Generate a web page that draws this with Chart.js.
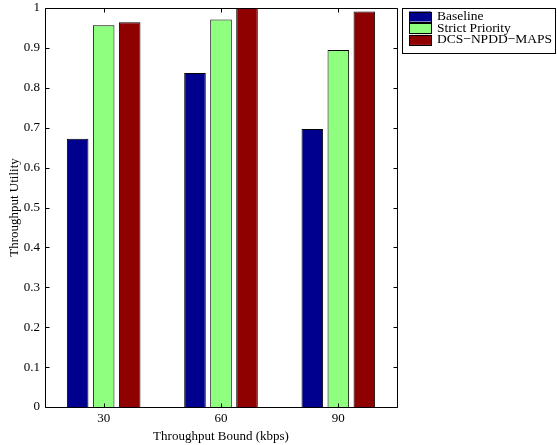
<!DOCTYPE html>
<html>
<head>
<meta charset="utf-8">
<script src="https://cdn.jsdelivr.net/npm/chart.js@4"></script>
<style>
  body { margin: 0; background: #fff; }
  canvas { display: block; }
</style>
</head>
<body>
<canvas id="utilidad" width="557" height="445"></canvas>
<script>
const categorias = ["30", "60", "90"];
const baseline = [0.672, 0.837, 0.697];
const strictPriority = [0.957, 0.971, 0.895];
const dcsNpddMaps = [0.964, 1.0, 0.991];
const nombresSeries = ["Baseline", "Strict Priority", "DCS\u2212NPDD\u2212MAPS"];
const colores = ["rgb(0,0,143)", "rgb(143,255,127)", "rgb(143,0,0)"];

const fuente = "'Liberation Serif', 'Times New Roman', serif";

// caja de ejes con marcas hacia adentro y leyenda fuera del area
const cajaYLeyenda = {
  id: "cajaYLeyenda",
  afterDraw(chart) {
    const ctx = chart.ctx;
    const a = chart.chartArea;
    const x = chart.scales.x, y = chart.scales.y;
    ctx.save();
    ctx.strokeStyle = "#000";
    ctx.lineWidth = 1;
    const L = Math.round(a.left) + 0.5, R = Math.round(a.right) + 0.5;
    const T = Math.round(a.top) + 0.5, B = Math.round(a.bottom) + 0.5;
    ctx.beginPath();
    ctx.rect(L, T, R - L, B - T);
    y.ticks.forEach(t => {
      const py = Math.round(y.getPixelForValue(t.value)) + 0.5;
      ctx.moveTo(L, py); ctx.lineTo(L + 4, py);
      ctx.moveTo(R, py); ctx.lineTo(R - 4, py);
    });
    categorias.forEach((c, i) => {
      const px = Math.round(x.getPixelForValue(i)) + 0.5;
      ctx.moveTo(px, T); ctx.lineTo(px, T + 4);
      ctx.moveTo(px, B); ctx.lineTo(px, B - 4);
    });
    ctx.stroke();

    // leyenda
    const lx = 402.5, ly = 8.5, lw = 153, lh = 45;
    ctx.fillStyle = "#fff";
    ctx.fillRect(lx, ly, lw, lh);
    ctx.strokeRect(lx, ly, lw, lh);
    ctx.font = "13.5px " + fuente;
    ctx.textBaseline = "middle";
    chart.data.datasets.forEach((ds, i) => {
      const cy = 16.5 + i * 11.7;
      ctx.fillStyle = ds.backgroundColor;
      ctx.fillRect(409, cy - 5, 22, 10);
      ctx.strokeRect(409.5, Math.round(cy - 5) + 0.5, 22, 10);
      ctx.fillStyle = "#000";
      ctx.fillText(ds.label, 437, cy);
    });
    ctx.restore();
  }
};

new Chart("utilidad", {
  type: "bar",
  data: {
    labels: categorias,
    datasets: [baseline, strictPriority, dcsNpddMaps].map((serie, i) => ({
      label: nombresSeries[i],
      data: serie,
      backgroundColor: colores[i],
      borderColor: "#000",
      borderWidth: 1,
      categoryPercentage: 0.665,
      barPercentage: 0.83
    }))
  },
  options: {
    responsive: false,
    animation: false,
    layout: { padding: { top: 0, right: 160, left: 0, bottom: 0 } },
    plugins: { legend: { display: false }, tooltip: { enabled: false } },
    scales: {
      x: {
        grid: { display: false, drawTicks: false },
        border: { display: false },
        ticks: { color: "#000", font: { family: fuente, size: 13 }, padding: 4 },
        title: {
          display: true, text: "Throughput Bound (kbps)", color: "#000",
          font: { family: fuente, size: 13 }, padding: { top: 0, bottom: 1 }
        },
        afterFit(s) { s.height = 38; }
      },
      y: {
        min: 0, max: 1,
        grid: { display: false, drawTicks: false },
        border: { display: false },
        ticks: {
          stepSize: 0.1, color: "#000", padding: 5,
          font: { family: fuente, size: 13 },
          callback: v => (v === 0 || v === 1) ? String(v) : v.toFixed(1)
        },
        title: {
          display: true, text: "Throughput Utility", color: "#000",
          font: { family: fuente, size: 13 }, padding: { top: 7, bottom: 0 }
        },
        afterFit(s) { s.width = 45; s.paddingTop = 8; }
      }
    }
  },
  plugins: [cajaYLeyenda]
});
</script>
</body>
</html>
